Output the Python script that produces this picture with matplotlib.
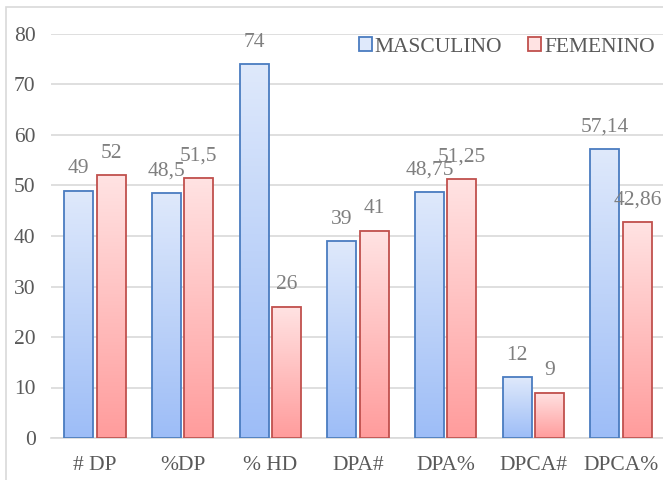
import matplotlib.pyplot as plt
import numpy as np
from matplotlib.colors import LinearSegmentedColormap
from matplotlib.patches import Patch, Rectangle

categories = ["# DP", "%DP", "% HD", "DPA#", "DPA%", "DPCA#", "DPCA%"]
masculino = [49, 48.5, 74, 39, 48.75, 12, 57.14]
femenino = [52, 51.5, 26, 41, 51.25, 9, 42.86]
yticks = [0, 10, 20, 30, 40, 50, 60, 70, 80]

plt.rcParams["font.family"] = ["Liberation Serif", "DejaVu Serif"]

GREY = "#7f7f7f"
series = [
    ("MASCULINO", masculino, -0.185, "#dfe9fb", "#9dbdf7", "#4a7cc0"),
    ("FEMENINO", femenino, 0.185, "#ffe3e3", "#ff9c9c", "#c0504d"),
]
width = 0.33

fig = plt.figure(figsize=(6.63, 4.80), dpi=100)
ax = fig.add_axes([51 / 663, 42 / 480, 614 / 663, 404 / 480])

x = np.arange(len(categories))
grad = np.linspace(0, 1, 256).reshape(-1, 1)

for label, values, offset, top_c, bot_c, edge in series:
    cmap = LinearSegmentedColormap.from_list(label, [bot_c, top_c])
    bars = ax.bar(x + offset, values, width, facecolor="none",
                  edgecolor=edge, linewidth=1.3, zorder=3)
    for rect, v in zip(bars, values):
        x0 = rect.get_x()
        ax.imshow(grad, cmap=cmap, origin="lower", aspect="auto",
                  extent=(x0, x0 + width, 0, v), zorder=2,
                  interpolation="bilinear")
        # value label above each bar, Excel style decimal comma
        ax.annotate(f"{v:g}".replace(".", ","),
                    (x0 + width / 2, v), xytext=(0, 9),
                    textcoords="offset points", ha="center", va="bottom",
                    fontsize=15.5, color=GREY)

ax.set_xlim(-0.5, len(categories) - 0.5)
ax.set_ylim(0, 80)
ax.set_yticks(yticks)
ax.set_xticks(x)
ax.set_xticklabels(categories)
ax.tick_params(axis="both", length=0, labelsize=15.5, colors="#595959")
ax.tick_params(axis="y", pad=11)
ax.tick_params(axis="x", pad=13)
ax.grid(axis="y", color="#d9d9d9", linewidth=1.2, zorder=0)
ax.set_axisbelow(True)
for side in ["top", "right", "left"]:
    ax.spines[side].set_visible(False)
ax.spines["bottom"].set_color("#d9d9d9")
ax.spines["bottom"].set_linewidth(1.2)

handles = [
    Patch(facecolor=top_c, edgecolor=edge, linewidth=1.3, label=label)
    for label, _, _, top_c, _, edge in series
]
fig.legend(handles=handles, loc="center right",
           bbox_to_anchor=(655 / 663, 1 - 47 / 480), ncol=2,
           frameon=False, fontsize=15.5, handlelength=0.6, handleheight=0.6,
           handletextpad=0.15, columnspacing=1.2, labelcolor="#595959",
           borderpad=0, borderaxespad=0)

fig.patches.append(Rectangle((6 / 663, -0.1), 1.2, 1.1 - 7 / 480,
                             transform=fig.transFigure, fill=False,
                             edgecolor="#d9d9d9", linewidth=1.2))

fig.savefig("out.png", dpi=100)
